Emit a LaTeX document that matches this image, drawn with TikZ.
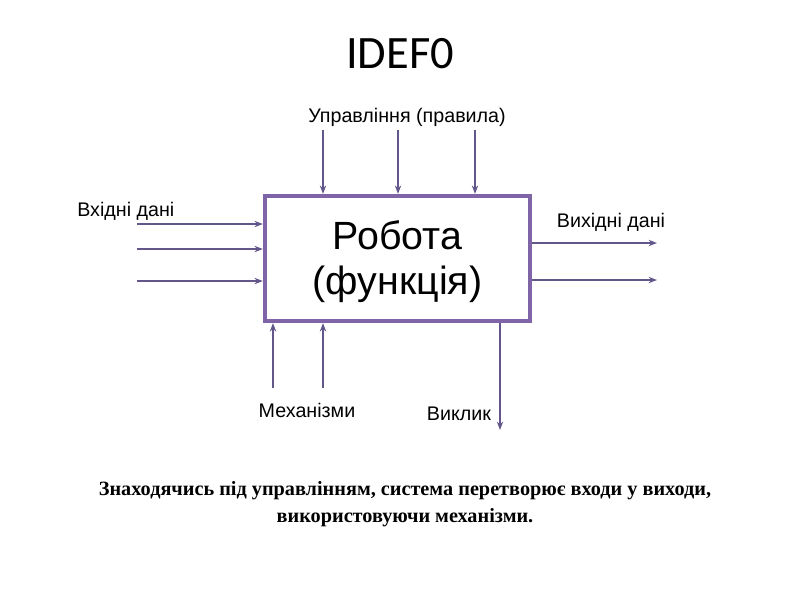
\documentclass[tikz,border=0pt]{standalone}
\usepackage{fontspec}
\setmainfont{Liberation Serif}
\setsansfont{Liberation Sans}
\newfontfamily\titlefont{Carlito}
\usetikzlibrary{positioning, arrows.meta}
\definecolor{boxpurple}{RGB}{128,100,168}
\definecolor{arrowgrey}{RGB}{98,86,138}
\tikzset{
x=0.025cm, y=-0.025cm, % one unit is one pixel of the reference
flow/.style={draw=arrowgrey, line width=1pt, -{Stealth[length=6pt, width=4.5pt]}}, % arrows into and out of the block
block/.style={draw=boxpurple, line width=3pt, minimum width=6.625cm, minimum height=3.125cm, align=center, font=\sffamily\fontsize{28}{32}\selectfont}, % the function box
lbl/.style={font=\sffamily\fontsize{14}{16}\selectfont, inner sep=0pt}, % labels of the arrows
}

\begin{document}
\begin{tikzpicture}
\useasboundingbox (0,0) rectangle (800,600);

\node[font=\titlefont\fontsize{33}{36}\selectfont] at (400,54) (title) {IDEF0};

\node[block] at (397.5,258.5) (box) {};
\node[font=\sffamily\fontsize{28}{32}\selectfont, align=center] at (397.5,262) (boxtext) {Робота\\(функція)};

\coordinate (in1) at (137,224);
\coordinate (in2) at (137,249);
\coordinate (in3) at (137,281);
\coordinate (out1) at (657,243);
\coordinate (out2) at (657,280);
\coordinate (ctl1) at (323,130);
\coordinate (ctl2) at (398,130);
\coordinate (ctl3) at (475,130);
\coordinate (mech1) at (273,388);
\coordinate (mech2) at (323,388);
\coordinate (call) at (500,430);

\draw[flow] (in1) -- (in1 -| box.west);
\draw[flow] (in2) -- (in2 -| box.west);
\draw[flow] (in3) -- (in3 -| box.west);
\draw[flow] (box.east |- out1) -- (out1);
\draw[flow] (box.east |- out2) -- (out2);
\draw[flow] (ctl1) -- (ctl1 |- box.north);
\draw[flow] (ctl2) -- (ctl2 |- box.north);
\draw[flow] (ctl3) -- (ctl3 |- box.north);
\draw[flow] (mech1) -- (mech1 |- box.south);
\draw[flow] (mech2) -- (mech2 |- box.south);
\draw[flow] (call |- box.south) -- (call);

\node[lbl, anchor=west] at (77,211) (inlbl) {Вхідні дані};
\node[lbl] at (407,117) (ctllbl) {Управління (правила)};
\node[lbl] at (611,222) (outlbl) {Вихідні дані};
\node[lbl] at (307,410) (mechlbl) {Механізми};
\node[lbl] at (459,414) (calllbl) {Виклик};

\node[align=center, font=\bfseries\fontsize{14.4}{19}\selectfont] at (405,504) (note) {Знаходячись під управлінням, система перетворює входи у виходи,\\використовуючи механізми.};

\end{tikzpicture}
\end{document}
